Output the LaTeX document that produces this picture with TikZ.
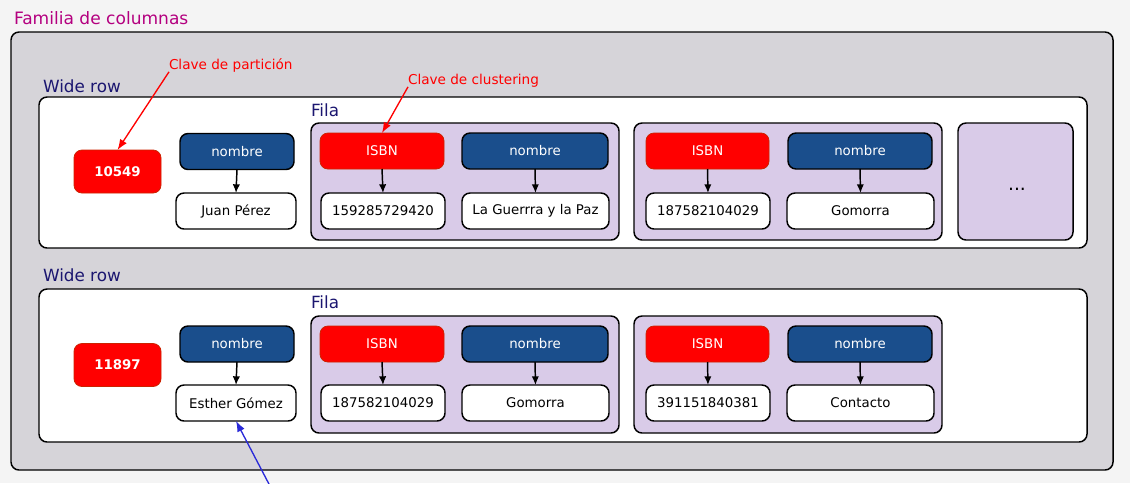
\documentclass[tikz,border=0pt]{standalone}
\usepackage{fontspec}
\setmainfont{DejaVu Sans}
\usetikzlibrary{arrows.meta}
\definecolor{pagebg}{HTML}{F4F4F4}
\definecolor{famfill}{HTML}{D6D4D9}
\definecolor{filafill}{HTML}{D9CBE8}
\definecolor{colblue}{HTML}{1A4E8C}
\definecolor{keyred}{HTML}{FF0000}
\definecolor{keyedge}{HTML}{CC2200}
\definecolor{titlemag}{HTML}{B4007F}
\definecolor{navy}{HTML}{1B1670}
\definecolor{annblue}{HTML}{2A2AD8}
\begin{document}
\begin{tikzpicture}[x=0.75pt,y=-0.75pt,
  every node/.style={inner sep=0pt, outer sep=0pt},
  family/.style={draw=black, line width=1.1pt, fill=famfill, rounded corners=6pt},
  widebox/.style={draw=black, line width=1.1pt, fill=white, rounded corners=6pt},
  filabox/.style={draw=black, line width=1.1pt, fill=filafill, rounded corners=6pt},
  pkey/.style={draw=keyedge, line width=0.6pt, fill=keyred, rounded corners=6pt, text=white, font=\bfseries\fontsize{10}{12}\selectfont, minimum width=65.25pt, minimum height=32.25pt},
  ckey/.style={draw=keyedge, line width=0.6pt, fill=keyred, rounded corners=6pt, text=white, font=\fontsize{10}{12}\selectfont, minimum height=27pt},
  colname/.style={draw=black, line width=1.1pt, fill=colblue, rounded corners=6pt, text=white, font=\fontsize{10}{12}\selectfont, minimum height=27pt},
  colval/.style={draw=black, line width=1.1pt, fill=white, rounded corners=6pt, text=black, font=\fontsize{10}{12}\selectfont, minimum height=27pt},
  grouplabel/.style={text=navy, font=\fontsize{12.6}{15}\selectfont, anchor=base west},
  ann/.style={text=keyred, font=\fontsize{10.2}{12}\selectfont, anchor=base west},
  flow/.style={-{Latex[length=6.5pt,width=5.5pt]}, line width=1.1pt, black},
  annarrow/.style={-{Latex[length=8pt,width=6pt]}, line width=1pt}
]
\fill[pagebg] (0,0) rectangle (1130,483);
\useasboundingbox (0,0) rectangle (1130,483);

\node[anchor=base west, text=titlemag, font=\fontsize{12.8}{15}\selectfont] (title) at (14,24) {Familia de columnas};
\node[family, minimum width=826.5pt, minimum height=328.5pt] (fam) at (562,251) {};

% ---------- Wide row 1 ----------
\node[grouplabel] (wl1) at (43,92) {Wide row};
\node[widebox, minimum width=786pt, minimum height=113.25pt] (wr1) at (563,172.5) {};
\node[grouplabel] (fl1) at (311,116) {Fila};
\node[filabox, minimum width=231pt, minimum height=87.75pt] (f11) at (465,181.5) {};
\node[filabox, minimum width=231pt, minimum height=87.75pt] (f12) at (788,181.5) {};
\node[filabox, minimum width=86.25pt, minimum height=87.75pt] (f13) at (1015.5,181.5) {};
\node[font=\fontsize{14}{16}\selectfont, anchor=base] (dots) at (1017,190) {...};

\node[pkey] (k1) at (117.5,171.5) {10549};
\node[colname, minimum width=85.5pt] (n1) at (237,151.5) {nombre};
\node[colval, minimum width=90pt] (v1) at (236,211) {Juan Pérez};

\node[ckey, minimum width=93pt] (i11) at (382,151) {ISBN};
\node[colname, minimum width=109.5pt] (n11) at (535,151) {nombre};
\node[colval, minimum width=93pt] (iv11) at (383,211) {159285729420};
\node[colval, minimum width=110.25pt] (nv11) at (535.5,211) {La Guerrra y la Paz};

\node[ckey, minimum width=92.25pt] (i12) at (707.5,151) {ISBN};
\node[colname, minimum width=108pt] (n12) at (860,151) {nombre};
\node[colval, minimum width=93pt] (iv12) at (708,211) {187582104029};
\node[colval, minimum width=110.25pt] (nv12) at (860.5,211) {Gomorra};

\draw[flow] (n1.south) -- (v1.north);
\draw[flow] (i11.south) -- (iv11.north);
\draw[flow] (n11.south) -- (nv11.north);
\draw[flow] (i12.south) -- (iv12.north);
\draw[flow] (n12.south) -- (nv12.north);

% ---------- Wide row 2 ----------
\node[grouplabel] (wl2) at (43,281) {Wide row};
\node[widebox, minimum width=786pt, minimum height=114.75pt] (wr2) at (563,365.5) {};
\node[grouplabel] (fl2) at (311,308) {Fila};
\node[filabox, minimum width=231pt, minimum height=87.75pt] (f21) at (465,374.5) {};
\node[filabox, minimum width=231pt, minimum height=87.75pt] (f22) at (788,374.5) {};

\node[pkey] (k2) at (117.5,365) {11897};
\node[colname, minimum width=85.5pt] (n2) at (237,344) {nombre};
\node[colval, minimum width=90pt] (v2) at (236,403) {Esther Gómez};

\node[ckey, minimum width=93pt] (i21) at (382,344) {ISBN};
\node[colname, minimum width=109.5pt] (n21) at (535,344) {nombre};
\node[colval, minimum width=93pt] (iv21) at (383,403) {187582104029};
\node[colval, minimum width=110.25pt] (nv21) at (535.5,403) {Gomorra};

\node[ckey, minimum width=92.25pt] (i22) at (707.5,344) {ISBN};
\node[colname, minimum width=108pt] (n22) at (860,344) {nombre};
\node[colval, minimum width=93pt] (iv22) at (708,403) {391151840381};
\node[colval, minimum width=110.25pt] (nv22) at (860.5,403) {Contacto};

\draw[flow] (n2.south) -- (v2.north);
\draw[flow] (i21.south) -- (iv21.north);
\draw[flow] (n21.south) -- (nv21.north);
\draw[flow] (i22.south) -- (iv22.north);
\draw[flow] (n22.south) -- (nv22.north);

% ---------- annotations ----------
\node[ann] (cp) at (169,69) {Clave de partición};
\node[ann] (cc) at (408,84) {Clave de clustering};
\draw[annarrow, keyred] (cp.south west) -- (k1.north);
\draw[annarrow, keyred] (cc.south west) -- (i11.north);
\coordinate (bfree) at (270,486);
\draw[annarrow, annblue] (bfree) -- (v2.south);
\end{tikzpicture}
\end{document}
